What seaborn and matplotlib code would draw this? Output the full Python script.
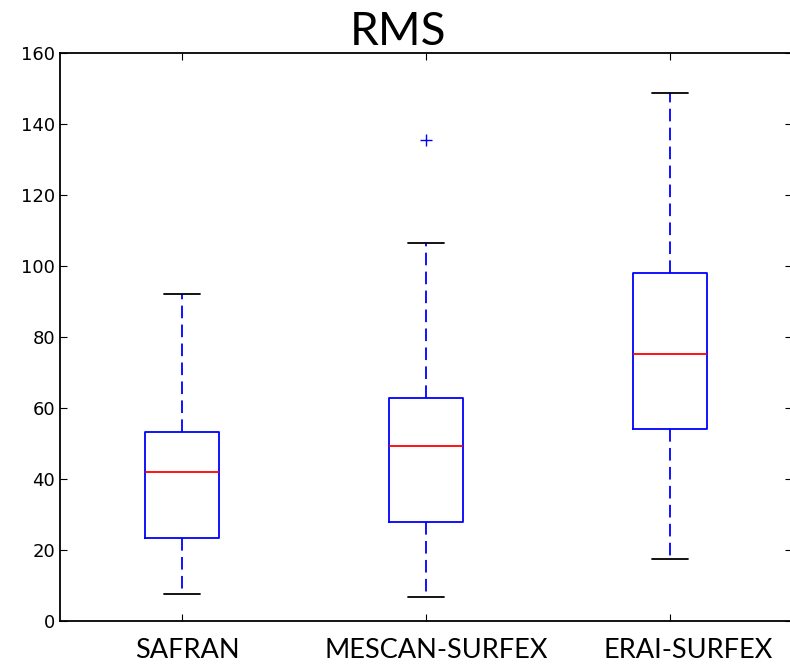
import pandas as pd
import seaborn as sns
import matplotlib.pyplot as plt
import matplotlib.transforms as mtransforms

# Box summary
products = ["SAFRAN", "MESCAN-SURFEX", "ERAI-SURFEX"]
whisker_low = [7.5, 6.8, 17.5]
q1 = [23.5, 27.9, 54.1]
median = [42.0, 49.3, 75.2]
q3 = [53.3, 62.8, 98.0]
whisker_high = [92.0, 106.5, 148.7]
outliers = [[], [135.5], []]

# 9-point samples whose quartiles / whiskers give back the values above
rows = []
for i, name in enumerate(products):
    vals = [whisker_low[i], q1[i], q1[i], median[i], median[i], q3[i], q3[i], whisker_high[i]]
    vals += outliers[i] if outliers[i] else [whisker_high[i]]
    for v in vals:
        rows.append({"product": name, "rms": v})
df = pd.DataFrame(rows)

sns.set_style("ticks")
plt.rcParams["font.family"] = ["DejaVu Sans"]

fig = plt.figure(figsize=(7.9, 6.65), dpi=100)
ax = fig.add_axes([60 / 790, 1 - 621 / 665, 732 / 790, 568 / 665])

sns.boxplot(data=df, x="product", y="rms", order=products, width=0.3, fill=False,
            linewidth=1.3, whis=1.5, ax=ax,
            boxprops=dict(color="blue"),
            whiskerprops=dict(color="blue", linestyle=(0, (7, 3.5))),
            capprops=dict(color="black"),
            medianprops=dict(color="red"),
            flierprops=dict(marker="+", markeredgecolor="blue", markersize=8, markeredgewidth=1))

ax.set_xlim(-0.5, 2.5)
ax.set_ylim(0, 160)
ax.set_yticks(range(0, 161, 20))
ax.set_xlabel("")
ax.set_ylabel("")
ax.tick_params(direction="in", length=5, top=True, right=True, labelsize=13, colors="black")
ax.tick_params(axis="x", pad=12)
# the category labels sit a little right of their ticks in the original
shifts = [5, 10, 18]
for lab, dx in zip(ax.get_xticklabels(), shifts):
    lab.set_fontfamily("Lato")
    lab.set_fontsize(19.5)
    lab.set_color("black")
    lab.set_transform(lab.get_transform() + mtransforms.ScaledTranslation(dx / 100, 0, fig.dpi_scale_trans))
for s in ax.spines.values():
    s.set_linewidth(1.3)
    s.set_color("black")

fig.text(0.504, 0.932, "RMS", ha="center", va="baseline", fontsize=33, family="Lato", color="black")

fig.savefig("out.png", dpi=100)
